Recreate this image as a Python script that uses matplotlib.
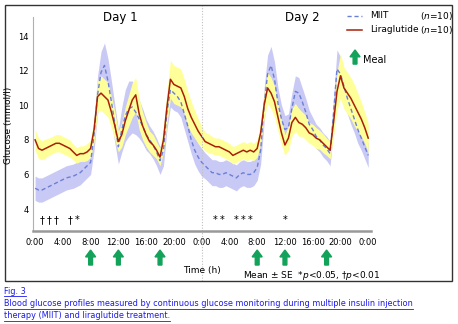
import matplotlib.pyplot as plt
import matplotlib.transforms as mtransforms
import numpy as np
from matplotlib.lines import Line2D
from matplotlib.patches import FancyArrow, Rectangle

# CGM profile, sampled every 30 min over two days (hours 0..48)
hours = np.arange(0, 48.5, 0.5)

lira = np.array([
    8.0, 7.5, 7.4, 7.5, 7.6, 7.7, 7.8, 7.8,        # 0-3.5
    7.7, 7.6, 7.5, 7.3, 7.1, 7.2, 7.2, 7.3,        # 4-7.5
    7.5, 8.6, 10.5, 10.7, 10.5, 10.3, 9.6, 8.8,    # 8-11.5
    7.9, 8.3, 9.1, 9.7, 10.3, 10.6, 9.5, 8.8,      # 12-15.5
    8.3, 7.9, 7.7, 7.4, 7.0, 8.0, 9.9, 11.5,       # 16-19.5
    11.2, 11.1, 11.0, 10.5, 9.8, 9.3, 8.9, 8.5,    # 20-23.5
    8.2, 7.9, 7.8, 7.7, 7.6, 7.6, 7.5, 7.4,        # 24-27.5
    7.3, 7.1, 7.2, 7.3, 7.4, 7.3, 7.4, 7.3,        # 28-31.5
    7.5, 8.4, 10.0, 11.0, 10.7, 10.2, 9.3, 8.4,    # 32-35.5
    7.7, 8.1, 9.0, 9.3, 9.0, 8.9, 8.7, 8.4,        # 36-39.5
    8.3, 8.1, 8.0, 7.8, 7.6, 7.4, 9.0, 10.8,       # 40-43.5
    11.7, 11.0, 10.7, 10.4, 10.0, 9.6, 9.2, 8.7,   # 44-47.5
    8.1])
lira_se = np.array([
    0.6, 0.6, 0.55, 0.55, 0.5, 0.5, 0.5, 0.5,
    0.5, 0.5, 0.5, 0.45, 0.45, 0.45, 0.45, 0.5,
    0.5, 0.7, 0.9, 1.0, 1.0, 1.0, 0.9, 0.8,
    0.6, 0.7, 0.8, 0.9, 1.0, 1.0, 0.9, 0.8,
    0.7, 0.6, 0.6, 0.5, 0.5, 0.7, 0.9, 1.1,
    1.1, 1.1, 1.1, 1.0, 1.0, 0.9, 0.8, 0.7,
    0.6, 0.55, 0.55, 0.5, 0.5, 0.5, 0.5, 0.5,
    0.5, 0.5, 0.5, 0.5, 0.5, 0.5, 0.5, 0.5,
    0.5, 0.6, 0.8, 0.9, 0.9, 0.9, 0.8, 0.7,
    0.6, 0.7, 0.8, 0.8, 0.8, 0.7, 0.7, 0.6,
    0.6, 0.6, 0.55, 0.55, 0.5, 0.5, 0.8, 1.1,
    1.3, 1.2, 1.2, 1.2, 1.2, 1.1, 1.0, 0.9,
    0.85])

miit = np.array([
    5.2, 5.1, 5.1, 5.2, 5.3, 5.4, 5.5, 5.6,
    5.7, 5.8, 5.85, 5.9, 6.0, 6.1, 6.3, 6.5,
    6.7, 8.3, 10.6, 11.9, 12.3, 11.4, 10.2, 8.9,
    7.6, 8.6, 9.4, 9.8, 9.9, 9.6, 9.2, 8.8,
    8.3, 8.0, 7.7, 7.3, 6.8, 7.4, 9.6, 10.9,
    10.7, 10.5, 10.2, 9.5, 8.8, 8.0, 7.4, 7.0,
    6.7, 6.5, 6.3, 6.1, 6.1, 6.0, 6.0, 6.1,
    6.0, 5.9, 5.8, 6.0, 6.1, 6.0, 6.0, 6.1,
    6.4, 7.4, 10.0, 11.8, 12.3, 11.5, 10.1, 9.2,
    8.6, 8.7, 9.8, 10.8, 10.7, 10.2, 9.6, 8.9,
    8.6, 8.2, 8.0, 7.7, 7.5, 7.2, 9.5, 12.1,
    11.8, 11.1, 10.4, 9.8, 9.2, 8.6, 8.1, 7.6,
    7.1])
miit_se = np.array([
    0.7, 0.7, 0.7, 0.7, 0.7, 0.7, 0.7, 0.7,
    0.7, 0.7, 0.7, 0.7, 0.7, 0.7, 0.7, 0.7,
    0.7, 0.9, 1.1, 1.2, 1.3, 1.3, 1.2, 1.1,
    1.0, 1.3, 1.5, 1.6, 1.5, 1.3, 1.1, 1.0,
    0.9, 0.8, 0.8, 0.8, 0.8, 0.9, 1.0, 1.0,
    1.0, 0.9, 0.9, 0.9, 0.9, 0.8, 0.8, 0.8,
    0.8, 0.75, 0.75, 0.75, 0.75, 0.75, 0.75, 0.75,
    0.75, 0.75, 0.75, 0.75, 0.75, 0.75, 0.75, 0.75,
    0.75, 0.8, 1.0, 1.1, 1.1, 1.0, 0.9, 0.8,
    0.8, 0.8, 0.9, 0.9, 0.9, 0.8, 0.8, 0.8,
    0.7, 0.7, 0.7, 0.7, 0.7, 0.7, 0.9, 1.1,
    1.0, 1.0, 0.9, 0.9, 0.8, 0.8, 0.7, 0.7,
    0.7])

meal_times = [8, 12, 18, 32, 36, 42]
sig_times = [1, 2, 3, 5, 6, 26, 27, 29, 30, 31, 36]
sig_marks = ['†', '†', '†', '†', '*', '*', '*', '*', '*', '*', '*']
xtick_hours = [0, 4, 8, 12, 16, 20, 24, 28, 32, 36, 40, 44, 48]
xtick_labels = ['0:00', '4:00', '8:00', '12:00', '16:00', '20:00', '0:00',
                '4:00', '8:00', '12:00', '16:00', '20:00', '0:00']
ytick_vals = [4, 6, 8, 10, 12, 14]

W, H = 458, 324
fig = plt.figure(figsize=(W / 100, H / 100), dpi=100)


def fx(px):
    return px / W


def fy(py):
    return 1 - py / H


ax = fig.add_axes([fx(33), fy(231), fx(371) - fx(33), fy(17) - fy(231)])

ax.fill_between(hours, miit - miit_se, miit + miit_se, color='#c9c9f5', lw=0)
ax.fill_between(hours, lira - lira_se, lira + lira_se, color='#ffff99', lw=0)
ax.plot(hours, miit, color='#6b7fd6', lw=1, dashes=(3, 2))
ax.plot(hours, lira, color='#a82008', lw=1.1)

ax.set_xlim(-0.3, 48.4)
ax.set_ylim(2.73, 15.1)
ax.set_xticks(xtick_hours)
ax.set_xticklabels(xtick_labels)
ax.set_yticks(ytick_vals)
ax.tick_params(length=0, labelsize=6)
ax.tick_params(axis='x', pad=5)
ax.tick_params(axis='y', pad=3)
for s in ['top', 'right']:
    ax.spines[s].set_visible(False)
ax.spines['left'].set_color('#b0b0b0')
ax.spines['left'].set_linewidth(0.8)
ax.spines['bottom'].set_color('#999999')
ax.spines['bottom'].set_linewidth(1.8)

# significance markers
for t, m in zip(sig_times, sig_marks):
    ax.text(t, 3.35, m, ha='center', va='center', fontsize=7)

# meal arrows under the axis
trans = mtransforms.blended_transform_factory(ax.transData, ax.transAxes)
green = '#13a25a'
for t in meal_times:
    ax.add_patch(FancyArrow(t, -0.159, 0, 0.07, width=0.55, head_width=1.45,
                            head_length=0.032, length_includes_head=True,
                            color=green, transform=trans, clip_on=False))
ax.add_patch(FancyArrow(46.1, 0.78, 0, 0.066, width=0.55, head_width=1.45,
                        head_length=0.032, length_includes_head=True,
                        color=green, transform=trans, clip_on=False))
ax.text(47.3, 0.80, 'Meal', transform=trans, fontsize=7, va='center')

# day divider
ax.add_line(Line2D([24, 24], [-0.234, 1.056], transform=trans, color='#c0c0c0',
                   lw=0.8, ls=(0, (1, 1.5)), clip_on=False))

# legend
fig.add_artist(Line2D([fx(347), fx(362)], [fy(16), fy(16)], color='#6b7fd6',
                      lw=1, dashes=(3, 2)))
fig.add_artist(Line2D([fx(347), fx(362)], [fy(30), fy(30)], color='#a82008', lw=1.1))
fig.text(fx(370), fy(16), 'MIIT', fontsize=6.5, va='center')
fig.text(fx(370), fy(30), 'Liraglutide', fontsize=6.5, va='center')
fig.text(fx(453), fy(16), '($n$=10)', fontsize=6.5, va='center', ha='right')
fig.text(fx(453), fy(30), '($n$=10)', fontsize=6.5, va='center', ha='right')

fig.text(fx(120), fy(17), 'Day 1', ha='center', va='center', fontsize=8.5)
fig.text(fx(302), fy(17), 'Day 2', ha='center', va='center', fontsize=8.5)
fig.text(fx(9), fy(125), 'Glucose (mmol/l)', rotation=90, ha='center',
         va='center', fontsize=6.5)
fig.text(fx(202), fy(270), 'Time (h)', ha='center', va='center', fontsize=6.5)
fig.text(fx(243), fy(276), 'Mean ± SE  *$p$<0.05, †$p$<0.01', ha='left',
         va='center', fontsize=6.5)

fig.add_artist(Rectangle((fx(5), fy(281)), fx(452) - fx(5), fy(5) - fy(281),
                         transform=fig.transFigure, fill=False,
                         edgecolor='#333333', lw=1))

# caption with underlined link text
blue = '#1a1aee'
caption = [('Fig. 3', 291),
           ('Blood glucose profiles measured by continuous glucose monitoring '
            'during multiple insulin injection', 304),
           ('therapy (MIIT) and liraglutide treatment.', 316)]
renderer = fig.canvas.get_renderer()
for txt, py in caption:
    t = fig.text(fx(4), fy(py), txt, color=blue, fontsize=5.9, va='center')
    bb = t.get_window_extent(renderer)
    fig.add_artist(Line2D([bb.x0 / W, bb.x1 / W], [(bb.y0 - 0.5) / H] * 2,
                          color=blue, lw=0.6))

fig.savefig('out.png', dpi=100)
